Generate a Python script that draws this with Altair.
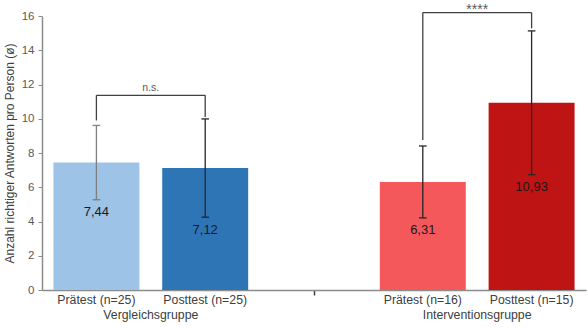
import altair as alt
import pandas as pd

# Data
labels = ["Prätest (n=25)", "Posttest (n=25)", "Prätest (n=16)", "Posttest (n=15)"]
slots = [0.5, 1.5, 3.5, 4.5]
means = [7.44, 7.12, 6.31, 10.93]
sds = [2.17, 2.87, 2.10, 4.20]
value_text = ["7,44", "7,12", "6,31", "10,93"]
bar_colors = ["#9DC3E6", "#2E75B6", "#F4585B", "#BE1414"]
err_colors = ["#7F7F7F", "#262626", "#262626", "#262626"]

groups = ["Vergleichsgruppe", "Interventionsgruppe"]
group_slots = [1.0, 4.0]

# significance brackets: x-range, bar height, left/right leg bottoms, text
br_x1 = [0.5, 3.5]
br_x2 = [1.5, 4.5]
br_y = [11.37, 16.2]
br_left = [9.9, 8.76]
br_right = [10.1, 15.28]
br_text = ["n.s.", "****"]

W, H = 544, 274

df = pd.DataFrame({
    "label": labels, "slot": slots, "mean": means, "sd": sds,
    "txt": value_text, "color": bar_colors, "ecolor": err_colors,
})
df["x1"] = df["slot"] - 0.395
df["x2"] = df["slot"] + 0.395
df["lo"] = df["mean"] - df["sd"]
df["hi"] = df["mean"] + df["sd"]
df["cl"] = df["slot"] - 0.035
df["cr"] = df["slot"] + 0.035
df["ty"] = df["lo"] - 0.72

gdf = pd.DataFrame({"g": groups, "slot": group_slots})
bdf = pd.DataFrame({"x1": br_x1, "x2": br_x2, "y": br_y, "yl": br_left,
                    "yr": br_right, "t": br_text})
bdf["xm"] = (bdf["x1"] + bdf["x2"]) / 2

xs = alt.Scale(domain=[0, 5], nice=False, zero=False)
ys = alt.Scale(domain=[0, 16], nice=False)

xaxis = alt.Axis(values=[2.5], labels=False, title=None, grid=False,
                 tickSize=5, tickColor="#404040", tickWidth=1.5,
                 domainColor="#8C8C8C", domainWidth=1.5)
yaxis = alt.Axis(values=list(range(0, 17, 2)), grid=False, tickSize=4,
                 labelOverlap=False,
                 tickColor="#8C8C8C", domainColor="#8C8C8C", domainWidth=1.5,
                 labelColor="#595959", labelFontSize=11.5, labelPadding=4,
                 title="Anzahl richtiger Antworten pro Person (ø)",
                 titleColor="#404040", titleFontSize=12, titleFontWeight="normal",
                 titlePadding=5)

X = lambda f: alt.X(f, scale=xs, axis=xaxis)
Y = lambda f: alt.Y(f, scale=ys, axis=yaxis)

bars = alt.Chart(df).mark_rect().encode(
    x=X("x1:Q"), x2="x2:Q", y=Y("mean:Q"), y2=alt.datum(0),
    color=alt.Color("color:N", scale=None),
)

err = alt.Chart(df).mark_rule(strokeWidth=1.3).encode(
    x=X("slot:Q"), y=Y("lo:Q"), y2="hi:Q",
    color=alt.Color("ecolor:N", scale=None))
cap_hi = alt.Chart(df).mark_rule(strokeWidth=1.3).encode(
    x=X("cl:Q"), x2="cr:Q", y=Y("hi:Q"),
    color=alt.Color("ecolor:N", scale=None))
cap_lo = alt.Chart(df).mark_rule(strokeWidth=1.3).encode(
    x=X("cl:Q"), x2="cr:Q", y=Y("lo:Q"),
    color=alt.Color("ecolor:N", scale=None))

vals = alt.Chart(df).mark_text(fontSize=13, color="#1a1a1a", font="Liberation Sans").encode(
    x=X("slot:Q"), y=Y("ty:Q"), text="txt:N")

catlab = alt.Chart(df).mark_text(fontSize=12.3, color="#404040", font="Liberation Sans").encode(
    x=X("slot:Q"), y=alt.value(H + 10), text="label:N")
grplab = alt.Chart(gdf).mark_text(fontSize=12.3, color="#404040", font="Liberation Sans").encode(
    x=X("slot:Q"), y=alt.value(H + 25), text="g:N")

bcol = "#404040"
bh = alt.Chart(bdf).mark_rule(strokeWidth=1.3, color=bcol).encode(
    x=X("x1:Q"), x2="x2:Q", y=Y("y:Q"))
bl = alt.Chart(bdf).mark_rule(strokeWidth=1.3, color=bcol).encode(
    x=X("x1:Q"), y=Y("y:Q"), y2="yl:Q")
br = alt.Chart(bdf).mark_rule(strokeWidth=1.3, color=bcol).encode(
    x=X("x2:Q"), y=Y("y:Q"), y2="yr:Q")
bt1 = alt.Chart(bdf).transform_filter(alt.datum.t == "n.s.").mark_text(
    color="#595959", dy=-7, fontSize=10.5, font="Liberation Sans").encode(
    x=X("xm:Q"), y=Y("y:Q"), text="t:N")
bt2 = alt.Chart(bdf).transform_filter(alt.datum.t != "n.s.").mark_text(
    color="#595959", dy=-3, fontSize=14, font="Liberation Sans").encode(
    x=X("xm:Q"), y=Y("y:Q"), text="t:N")

chart = alt.layer(bars, err, cap_hi, cap_lo, vals, bh, bl, br, bt1, bt2, catlab, grplab).properties(
    width=W, height=H,
    autosize=alt.AutoSizeParams(type="none"),
    padding={"left": 42, "top": 16, "right": 2, "bottom": 38},
).configure_view(stroke=None).configure_axis(
    labelFont="Liberation Sans", titleFont="Liberation Sans", labelOverlap=False)

chart.save("out.html", embed_options={"renderer": "svg", "actions": False})
